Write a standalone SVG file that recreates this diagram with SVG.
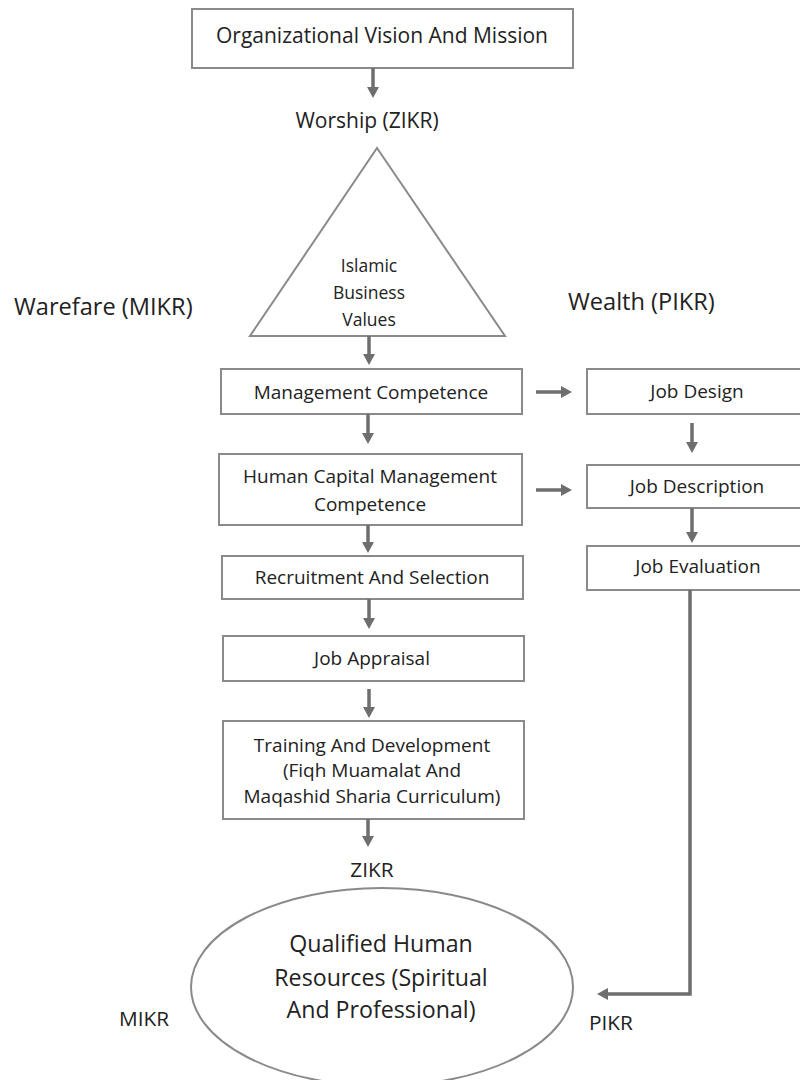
<svg xmlns="http://www.w3.org/2000/svg" width="800" height="1080" viewBox="0 0 800 1080">
<style>
.box{fill:#ffffff;stroke:#8a8a8a;stroke-width:2}
.t{font-family:"Open Sans","Liberation Sans",sans-serif;fill:#222222;text-anchor:middle}
.s{font-size:19px}
.l{font-size:23.2px}
.m{font-size:20.8px}
.lbl{font-family:"Open Sans","Liberation Sans",sans-serif;fill:#222222}
.c{fill:none;stroke:#6e6e6e;stroke-width:3.5}
</style>
<defs>
<marker id="ah" markerUnits="userSpaceOnUse" markerWidth="13" markerHeight="13" refX="1" refY="6" orient="auto">
<path d="M0,0 L11,6 L0,12 Z" fill="#6e6e6e"/>
</marker>
</defs>
<rect width="800" height="1080" fill="#ffffff"/>

<g id="vision">
<rect class="box" x="192" y="9" width="381" height="59"/>
<text class="t" style="font-size:21px" x="382" y="43">Organizational Vision And Mission</text>
</g>
<g id="worship">
<text class="t" style="font-size:21px" x="367" y="128">Worship (ZIKR)</text>
</g>
<g id="values">
<polygon class="box" points="377,148 505,336 250,336"/>
<text class="t" style="font-size:17.5px" x="369" y="272">Islamic</text>
<text class="t" style="font-size:17.5px" x="369" y="299">Business</text>
<text class="t" style="font-size:17.5px" x="369" y="326">Values</text>
</g>
<g id="warefare">
<text class="lbl" style="font-size:23.6px" x="14" y="315">Warefare (MIKR)</text>
</g>
<g id="wealth">
<text class="lbl" style="font-size:23.6px" x="568" y="310">Wealth (PIKR)</text>
</g>
<g id="mgmt">
<rect class="box" x="221" y="369" width="301" height="45"/>
<text class="t s" x="371" y="399">Management Competence</text>
</g>
<g id="hcm">
<rect class="box" x="219" y="454" width="303" height="71"/>
<text class="t s" x="370" y="483">Human Capital Management</text>
<text class="t s" x="370" y="511">Competence</text>
</g>
<g id="recruit">
<rect class="box" x="222" y="556" width="301" height="43"/>
<text class="t s" x="372" y="584">Recruitment And Selection</text>
</g>
<g id="appraisal">
<rect class="box" x="223" y="636" width="301" height="45"/>
<text class="t s" x="372" y="665">Job Appraisal</text>
</g>
<g id="training">
<rect class="box" x="223" y="721" width="301" height="98"/>
<text class="t s" x="372" y="752">Training And Development</text>
<text class="t s" x="372" y="777">(Fiqh Muamalat And</text>
<text class="t s" x="372" y="803">Maqashid Sharia Curriculum)</text>
</g>
<g id="jobdesign">
<rect class="box" x="587" y="369" width="215" height="45"/>
<text class="t s" x="697" y="398">Job Design</text>
</g>
<g id="jobdesc">
<rect class="box" x="587" y="465" width="215" height="43"/>
<text class="t s" x="697" y="493">Job Description</text>
</g>
<g id="jobeval">
<rect class="box" x="587" y="546" width="215" height="44"/>
<text class="t s" x="698" y="573">Job Evaluation</text>
</g>
<g id="zikr">
<text class="t m" x="372" y="877">ZIKR</text>
</g>
<g id="qualified">
<ellipse cx="382" cy="987" rx="191" ry="99" fill="#ffffff" stroke="#8a8a8a" stroke-width="2"/>
<text class="t l" x="381" y="952">Qualified Human</text>
<text class="t l" x="381" y="986">Resources (Spiritual</text>
<text class="t l" x="381" y="1018">And Professional)</text>
</g>
<g id="mikr">
<text class="lbl m" x="119" y="1026">MIKR</text>
</g>
<g id="pikr">
<text class="lbl m" x="589" y="1030">PIKR</text>
</g>

<g id="connectors">
<line class="c" x1="373" y1="68" x2="373" y2="88" marker-end="url(#ah)"/>
<line class="c" x1="369" y1="336" x2="369" y2="355" marker-end="url(#ah)"/>
<line class="c" x1="368" y1="414" x2="368" y2="434" marker-end="url(#ah)"/>
<line class="c" x1="368" y1="525" x2="368" y2="543" marker-end="url(#ah)"/>
<line class="c" x1="369" y1="599" x2="369" y2="619" marker-end="url(#ah)"/>
<line class="c" x1="369" y1="689" x2="369" y2="708" marker-end="url(#ah)"/>
<line class="c" x1="368" y1="819" x2="368" y2="837" marker-end="url(#ah)"/>
<line class="c" x1="536" y1="392" x2="562" y2="392" marker-end="url(#ah)"/>
<line class="c" x1="536" y1="490" x2="562" y2="490" marker-end="url(#ah)"/>
<line class="c" x1="692" y1="423" x2="692" y2="443" marker-end="url(#ah)"/>
<line class="c" x1="692" y1="508" x2="692" y2="533" marker-end="url(#ah)"/>
<polyline class="c" points="690,590 690,994 607,994" marker-end="url(#ah)"/>
</g>
</svg>
